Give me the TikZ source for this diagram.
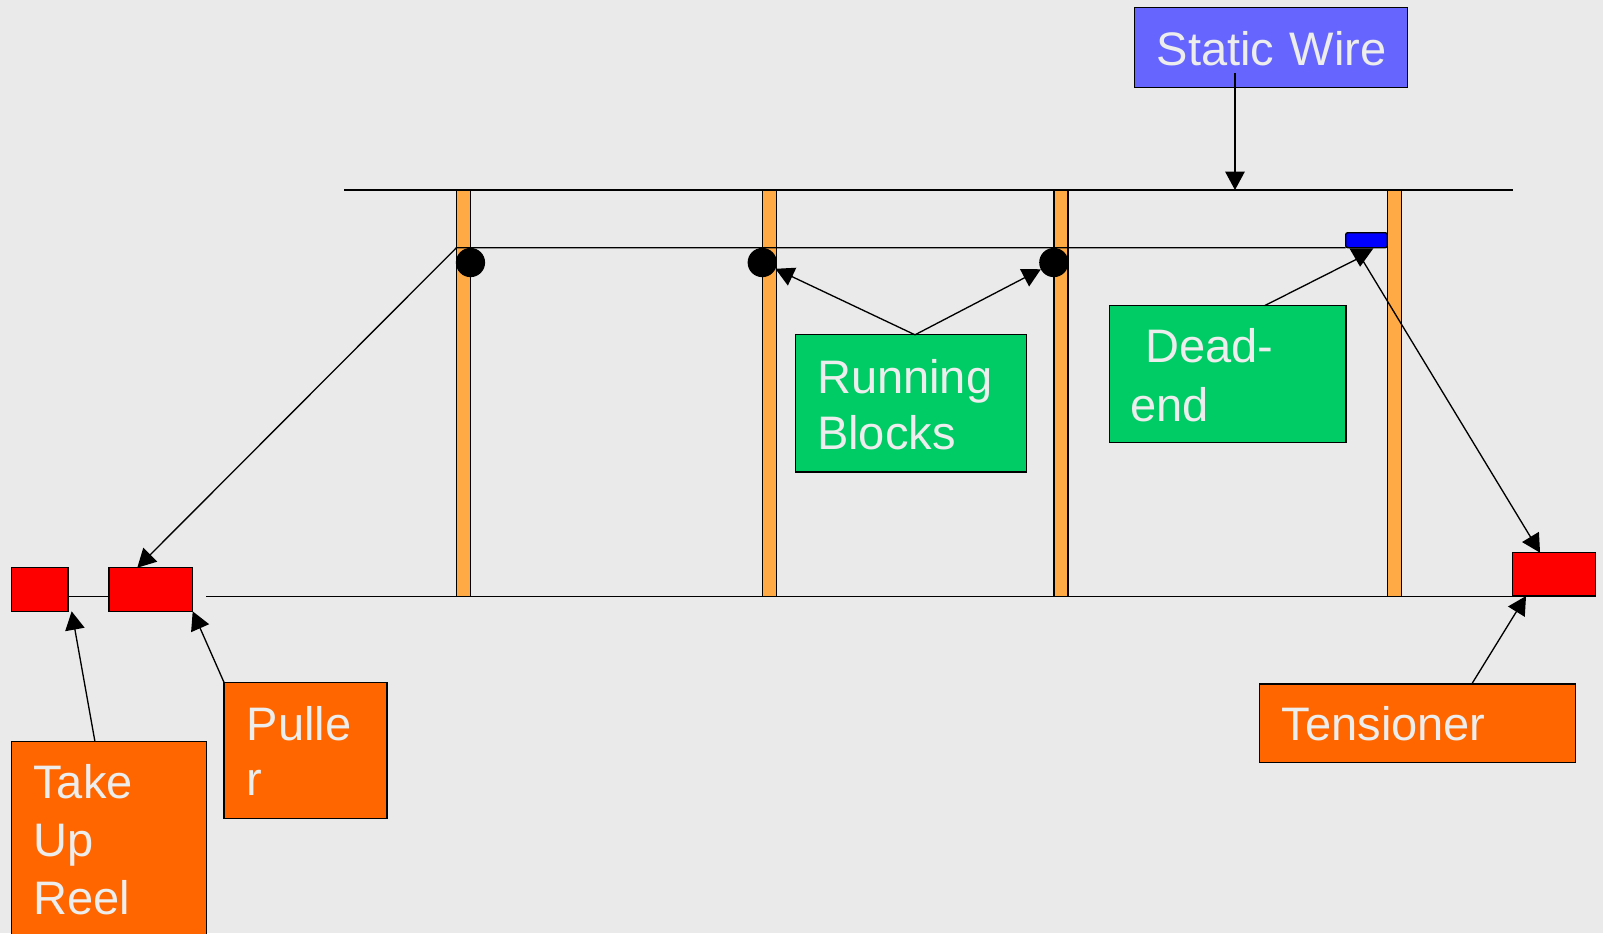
\documentclass[tikz,border=0pt]{standalone}
\usepackage{fontspec}
\setmainfont{Liberation Sans}
\usetikzlibrary{arrows.meta,calc}

\definecolor{bg}{HTML}{EAEAEA}
\definecolor{polefill}{HTML}{FFAA44}
\definecolor{gearred}{HTML}{FF0000}
\definecolor{crew}{HTML}{FF6600}
\definecolor{tag}{HTML}{00CC66}
\definecolor{wiretag}{HTML}{6666FF}
\definecolor{clampblue}{HTML}{0000FF}
\definecolor{ink}{HTML}{EDEDED}

\begin{document}
\begin{tikzpicture}[x=1pt,y=-1pt,line width=1.3pt,
  lbl/.style={draw=black,anchor=north west,inner ysep=0pt,outer sep=0pt,
    align=left,text=ink,font=\fontsize{46}{55}\selectfont},
  gear/.style={draw=black,fill=gearred,anchor=north west,inner sep=0pt,outer sep=0pt},
  pole/.style={draw=black,fill=polefill,anchor=north west,inner sep=0pt,outer sep=0pt,
    minimum width=13.7pt,minimum height=397.4pt},
  block/.style={circle,fill=black,inner sep=0pt,outer sep=0pt,minimum size=28.6pt},
  arr/.style={-{Triangle[length=18pt,width=19pt]}}]

% canvas
\clip (0,0) rectangle (1568,913);
\fill[bg] (0,0) rectangle (1568,913);

% poles
\node[pole] (p1) at (446.7,185.9) {};
\node[pole] (p2) at (745.7,185.9) {};
\node[pole] (p3) at (1031,185.9) {};
\node[pole] (p4) at (1357,185.9) {};

% equipment
\node[gear,minimum width=55.1pt,minimum height=42.7pt] (reel) at (11.4,555.3) {};
\node[gear,minimum width=81.9pt,minimum height=42.7pt] (pull) at (106.6,555.3) {};
\node[gear,minimum width=81.6pt,minimum height=42.4pt] (tens) at (1479.3,540.6) {};
\node[draw=black,fill=clampblue,rounded corners=2pt,anchor=north west,inner sep=0pt,
  outer sep=0pt,minimum width=40.7pt,minimum height=14.7pt] (dend) at (1316.3,227.6) {};

% wires
\coordinate (swL) at (336.8,185.9);
\coordinate (swR) at (1480.3,185.9);
\coordinate (c1) at (446.5,242.3);
\coordinate (gL) at (201.5,583.3);
\coordinate (gR) at (1520,583.3);
\coordinate (clampc) at (1331,251.5);
\draw (swL) -- (swR);
\draw (c1) -- (dend.south west);
\draw (gL) -- (gR);
\draw (reel.east |- gL) -- (pull.west |- gL);

% running blocks
\node[block] (b1) at (460.2,256.8) {};
\node[block] (b2) at (745.6,256.8) {};
\node[block] (b3) at (1030.8,256.8) {};

% labels
\node[lbl,fill=wiretag,inner xsep=21.9pt,text width=223.3pt,
  text height=56.4pt,text depth=21.8pt] (sw) at (1109.5,7.2) {Static~Wire};
\node[lbl,fill=tag,inner xsep=21pt,text width=184.2pt,
  text height=57.3pt,text depth=76.9pt,font=\fontsize{46}{54.7}\selectfont]
  (rb) at (778.2,327.5) {Running\\Blocks};
\node[lbl,fill=tag,inner xsep=20.9pt,text width=189.8pt,
  text height=55.8pt,text depth=78.2pt,font=\fontsize{46}{57.7}\selectfont]
  (de) at (1085.1,299) {\hspace*{14.5pt}Dead-\\end};
\node[lbl,fill=crew,inner xsep=22.2pt,text width=115.1pt,
  text height=56.5pt,text depth=76.9pt,font=\fontsize{46}{54.7}\selectfont]
  (pu) at (219.1,667.4) {Pulle\\r};
\node[lbl,fill=crew,inner xsep=21.2pt,text width=148.4pt,
  text height=55.4pt,text depth=220pt,font=\fontsize{46}{57}\selectfont]
  (tu) at (11.4,725.5) {Take\\Up\\Reel};
\node[lbl,fill=crew,inner xsep=21.9pt,text width=265.7pt,
  text height=55.4pt,text depth=21.2pt] (te) at (1231.8,669.1) {Tensioner};

% connectors
\draw[arr] ($(sw.south west)+(98.5,-14)$) coordinate (swfoot) -- (swfoot |- swL);
\draw[arr] (c1) -- ($(pull.north west)+(27.7,0)$);
\draw[arr] ($(rb.north)+(3.7,0)$) -- (b2);
\draw[arr] ($(rb.north)+(3.7,0)$) -- (b3);
\draw ($(de.north)+(36.1,0)$) -- (clampc);
\draw[arr] (clampc) -- ($(tens.north west)+(27.1,0)$);
\fill (1319.9,242.9) -- (1343.4,242.9) -- (1330.4,260.9) -- cycle;
\draw[arr] ($(te.north west)+(207.8,0)$) -- ($(tens.south west)+(13.4,0)$);
\draw[arr] (pu.north west) -- (pull.south east);
\draw[arr] ($(tu.north west)+(81.5,0)$) -- ($(reel.south east)+(3.6,0)$);
\end{tikzpicture}
\end{document}
